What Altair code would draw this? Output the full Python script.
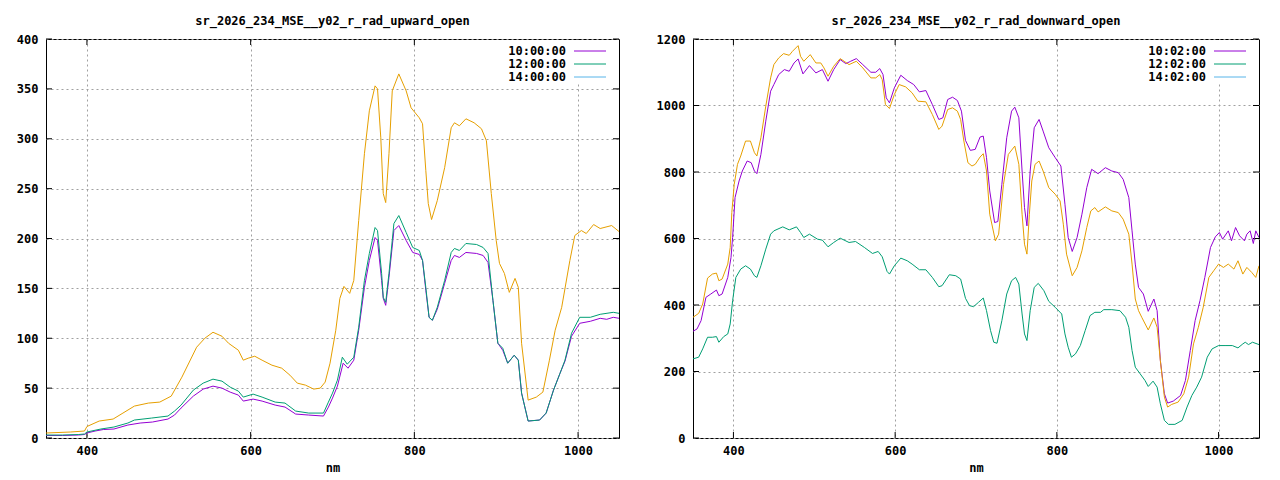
import altair as alt
import pandas as pd

# ---------------- data ----------------
TITLE_L = "sr_2026_234_MSE__y02_r_rad_upward_open"
TITLE_R = "sr_2026_234_MSE__y02_r_rad_downward_open"
LEG_L = ["10:00:00", "12:00:00", "14:00:00"]
LEG_R = ["10:02:00", "12:02:00", "14:02:00"]
X_TICKS = [400, 600, 800, 1000]
Y_TICKS_L = [0, 50, 100, 150, 200, 250, 300, 350, 400]
Y_TICKS_R = [0, 200, 400, 600, 800, 1000, 1200]

# upward, 10:00 (purple)
UP_10_NM = [350, 370, 390, 397, 400, 410, 420, 433, 450, 465, 480, 499, 507, 515, 530, 542, 554, 565, 575, 585, 591, 603, 614, 630, 642, 655, 671, 689, 695, 700, 706, 713, 719, 726, 732, 739, 745, 752, 755, 760, 762, 765, 769, 775, 781, 790, 798, 806, 810, 814, 818, 822, 828, 837, 845, 849, 855, 863, 876, 884, 890, 896, 902, 908, 914, 922, 927, 931, 939, 953, 961, 970, 978, 984, 992, 1002, 1015, 1027, 1035, 1043, 1050]
UP_10_V = [2.5, 2.5, 3, 3.5, 5, 7, 8.5, 9, 13, 15, 16, 19, 23, 30, 42, 49, 52, 50, 46, 43, 37, 39, 37, 33, 31, 24, 23, 22, 31, 40, 52, 75, 70, 78, 108, 151, 178, 201, 198, 158, 140, 133, 161, 208, 213, 198, 186, 184, 178, 148, 121, 118, 129, 155, 178, 183, 181, 186, 185, 183, 176, 138, 95, 88, 75, 83, 78, 45, 17, 18, 25, 48, 65, 77, 102, 115, 117, 120, 119, 121, 120]
# upward, 12:00 (green)
UP_12_NM = [350, 370, 390, 397, 400, 417, 433, 450, 458, 479, 499, 507, 515, 530, 542, 554, 565, 575, 585, 591, 603, 614, 630, 642, 655, 671, 689, 695, 700, 706, 712, 718, 726, 732, 739, 745, 752, 755, 760, 762, 765, 769, 775, 781, 790, 798, 806, 810, 814, 818, 822, 828, 837, 845, 849, 855, 863, 876, 884, 890, 896, 902, 908, 914, 922, 927, 931, 939, 953, 961, 970, 978, 984, 992, 1002, 1015, 1027, 1043, 1050]
UP_12_V = [3, 3, 3.5, 4, 6, 9, 11, 15, 18, 20, 22, 27, 33, 48, 55, 59, 57, 51, 47, 41, 44, 41, 36, 35, 27, 25, 25, 36, 45, 58, 81, 74, 81, 111, 158, 185, 211, 208, 165, 141, 136, 165, 215, 223, 206, 191, 188, 178, 151, 121, 118, 131, 158, 186, 190, 188, 195, 194, 191, 185, 138, 95, 90, 75, 83, 78, 45, 17, 18, 25, 48, 65, 78, 105, 121, 121, 124, 126, 125]
# upward, 14:00 (orange)
UP_14_NM = [350, 380, 397, 400, 415, 432, 444, 458, 475, 489, 503, 516, 534, 544, 554, 565, 573, 585, 591, 597, 605, 614, 626, 638, 648, 657, 667, 677, 685, 691, 697, 704, 709, 714, 721, 726, 732, 739, 745, 752, 755, 759, 762, 765, 769, 773, 781, 790, 796, 806, 810, 814, 817, 821, 828, 837, 845, 849, 855, 863, 873, 882, 888, 894, 900, 904, 910, 916, 923, 927, 931, 939, 949, 957, 965, 972, 980, 990, 996, 1004, 1010, 1019, 1027, 1041, 1050]
UP_14_V = [5, 6, 7, 11.5, 17, 19, 25, 32, 35, 36, 42, 61, 91, 100, 106, 102, 95, 88, 78, 80, 82, 78, 73, 70, 63, 55, 53, 49, 50, 56, 75, 108, 140, 152, 145, 158, 218, 285, 328, 353, 350, 301, 245, 236, 285, 348, 365, 348, 331, 321, 315, 268, 235, 219, 238, 271, 311, 316, 313, 320, 316, 310, 298, 245, 198, 175, 165, 146, 160, 151, 95, 38, 41, 46, 78, 108, 131, 178, 203, 208, 205, 214, 210, 213, 207]

# downward, 10:02 (purple)
DN_10_NM = [350, 355, 360, 366, 372, 379, 382, 386, 393, 397, 399, 402, 407, 411, 417, 422, 426, 429, 434, 440, 446, 450, 456, 463, 469, 475, 480, 486, 494, 502, 510, 517, 524, 532, 539, 545, 552, 560, 570, 576, 581, 585, 589, 593, 599, 607, 615, 623, 630, 638, 646, 654, 659, 665, 671, 677, 682, 687, 693, 699, 705, 709, 713, 717, 723, 727, 732, 738, 744, 748, 753, 757, 760, 763, 767, 772, 778, 783, 790, 798, 805, 810, 814, 819, 825, 831, 837, 843, 851, 860, 868, 876, 882, 889, 893, 897, 901, 907, 913, 920, 924, 928, 933, 937, 944, 953, 959, 965, 971, 977, 983, 990, 996, 1001, 1005, 1012, 1016, 1021, 1026, 1032, 1035, 1039, 1043, 1046, 1050]
DN_10_V = [321, 328, 353, 423, 433, 445, 428, 433, 483, 543, 603, 723, 773, 803, 833, 828, 803, 795, 853, 953, 1043, 1063, 1093, 1108, 1103, 1128, 1140, 1095, 1120, 1098, 1108, 1073, 1108, 1138, 1126, 1133, 1141, 1123, 1100, 1100, 1111, 1093, 1023, 1008, 1053, 1091, 1075, 1063, 1041, 1045, 1003, 958, 963, 1018, 1025, 1015, 983, 895, 865, 868, 905, 908, 843, 743, 648, 651, 763, 903, 983, 995, 963, 803, 693, 638, 803, 933, 958, 923, 873, 843, 818, 703, 603, 561, 603, 673, 753, 808, 795, 813, 803, 798, 778, 723, 623, 523, 453, 433, 381, 418, 383, 233, 133, 105, 111, 128, 173, 263, 353, 413, 483, 573, 605, 618, 598, 623, 593, 633, 608, 593, 613, 623, 585, 623, 603]
# downward, 12:02 (green)
DN_12_NM = [350, 357, 362, 368, 374, 379, 382, 388, 393, 396, 399, 403, 409, 415, 421, 426, 429, 434, 440, 446, 450, 461, 469, 478, 483, 487, 494, 504, 510, 517, 524, 532, 543, 551, 562, 572, 579, 584, 590, 593, 599, 607, 615, 621, 630, 638, 646, 654, 658, 667, 675, 681, 687, 692, 697, 703, 709, 713, 718, 722, 726, 732, 738, 744, 749, 753, 757, 760, 763, 767, 772, 777, 784, 790, 798, 806, 810, 814, 818, 823, 829, 835, 841, 847, 854, 858, 868, 878, 885, 889, 893, 897, 903, 909, 913, 919, 924, 928, 933, 938, 946, 955, 961, 967, 973, 979, 986, 992, 1000, 1008, 1017, 1024, 1030, 1033, 1037, 1042, 1050]
DN_12_V = [238, 243, 268, 303, 303, 305, 288, 305, 313, 343, 413, 483, 508, 518, 508, 488, 483, 518, 568, 613, 623, 635, 626, 635, 618, 603, 613, 598, 595, 575, 588, 601, 588, 591, 573, 555, 561, 545, 501, 493, 518, 541, 533, 523, 506, 506, 483, 455, 458, 491, 488, 478, 420, 398, 395, 408, 421, 383, 323, 288, 285, 353, 433, 473, 483, 463, 373, 313, 293, 383, 453, 465, 443, 411, 393, 373, 313, 273, 243, 253, 278, 323, 368, 378, 378, 386, 386, 383, 363, 333, 263, 213, 193, 173, 155, 171, 153, 103, 53, 41, 41, 53, 93, 128, 153, 183, 243, 268, 278, 278, 278, 271, 283, 288, 281, 288, 281]
# downward, 14:02 (orange)
DN_14_NM = [350, 357, 362, 368, 374, 379, 382, 386, 393, 396, 398, 401, 405, 409, 415, 421, 426, 429, 434, 440, 446, 450, 456, 462, 469, 473, 480, 483, 487, 495, 502, 508, 512, 517, 524, 532, 537, 543, 552, 560, 570, 576, 581, 584, 588, 593, 599, 605, 613, 621, 628, 638, 646, 654, 658, 665, 671, 677, 681, 685, 690, 695, 699, 705, 709, 713, 717, 724, 728, 734, 740, 748, 753, 757, 760, 763, 766, 769, 773, 778, 783, 790, 798, 804, 808, 812, 819, 825, 831, 837, 842, 847, 851, 860, 868, 876, 882, 889, 893, 897, 901, 905, 913, 920, 924, 928, 933, 937, 942, 950, 957, 963, 969, 975, 981, 988, 994, 1000, 1006, 1012, 1019, 1024, 1030, 1035, 1041, 1046, 1050]
DN_14_V = [363, 375, 403, 481, 493, 496, 473, 478, 523, 573, 678, 763, 823, 848, 893, 893, 858, 848, 903, 998, 1083, 1123, 1143, 1156, 1151, 1163, 1180, 1148, 1133, 1153, 1128, 1128, 1113, 1088, 1118, 1141, 1133, 1123, 1133, 1113, 1083, 1083, 1093, 1078, 1003, 991, 1033, 1063, 1056, 1038, 1013, 1011, 973, 928, 938, 988, 993, 983, 958, 893, 828, 818, 823, 845, 855, 803, 673, 593, 613, 763, 853, 878, 823, 673, 583, 553, 673, 773, 823, 833, 803, 753, 733, 713, 643, 553, 488, 513, 563, 633, 683, 693, 680, 695, 683, 678, 658, 613, 523, 418, 383, 363, 325, 361, 333, 233, 123, 93, 101, 108, 133, 183, 283, 333, 393, 483, 503, 523, 513, 523, 508, 533, 493, 513, 498, 483, 518]

LINE_COLORS = ["#9400D3", "#009E73", "#E69F00"]
KEY_COLORS = ["#9400D3", "#009E73", "#56B4E9"]

FONT = "DejaVu Sans Mono"
FS = 12


def long_df(names, nms, vals):
    rows = []
    for name, xs, ys in zip(names, nms, vals):
        for x, y in zip(xs, ys):
            rows.append({"series": name, "nm": x, "value": y})
    return pd.DataFrame(rows)


def panel(title, names, nms, vals, yticks, ymax, W, H):
    df = long_df(names, nms, vals)
    xscale = alt.Scale(domain=[350, 1050], nice=False, zero=False)
    yscale = alt.Scale(domain=[0, ymax], nice=False, zero=True)
    xaxis = alt.Axis(values=X_TICKS, title="nm", format="d")
    yaxis = alt.Axis(values=yticks, title=None, format="d")
    X = lambda: alt.X("nm:Q", scale=xscale, axis=xaxis)
    Y = lambda: alt.Y("value:Q", scale=yscale, axis=yaxis)

    lines = alt.Chart(df).mark_line(strokeWidth=1, clip=True).encode(
        x=X(), y=Y(),
        color=alt.Color("series:N", scale=alt.Scale(domain=names, range=LINE_COLORS), legend=None),
    )
    xt = pd.DataFrame({"nm": X_TICKS})
    yt = pd.DataFrame({"value": yticks})
    tb = alt.Chart(xt).mark_rule(color="black", strokeWidth=1).encode(x=X(), y=alt.value(H), y2=alt.value(H - 6))
    tt = alt.Chart(xt).mark_rule(color="black", strokeWidth=1).encode(x=X(), y=alt.value(0), y2=alt.value(6))
    tl = alt.Chart(yt).mark_rule(color="black", strokeWidth=1).encode(y=Y(), x=alt.value(0), x2=alt.value(6))
    tr = alt.Chart(yt).mark_rule(color="black", strokeWidth=1).encode(y=Y(), x=alt.value(W), x2=alt.value(W - 6))
    box = alt.Chart(pd.DataFrame({"k": [0]})).mark_rect(color="white").encode(
        x=alt.value(W - 115), x2=alt.value(W - 1), y=alt.value(1), y2=alt.value(43))

    layers = [tb, tt, tl, tr, box, lines]
    for i, (lab, col) in enumerate(zip(names, KEY_COLORS)):
        yy = 12 + 13 * i
        ld = pd.DataFrame({"label": [lab]})
        layers.append(alt.Chart(ld).mark_text(align="right", baseline="middle", font=FONT,
                                              fontSize=FS, fontWeight="bold", color="black").encode(
            text="label:N", x=alt.value(W - 53), y=alt.value(yy)))
        layers.append(alt.Chart(ld).mark_rule(color=col, strokeWidth=1).encode(
            x=alt.value(W - 45), x2=alt.value(W - 13), y=alt.value(yy)))

    return alt.layer(*layers).properties(
        width=W, height=H,
        title=alt.TitleParams(title, font=FONT, fontSize=FS, fontWeight="bold", color="black",
                              anchor="middle", offset=5),
    )


left = panel(TITLE_L, LEG_L, [UP_10_NM, UP_12_NM, UP_14_NM], [UP_10_V, UP_12_V, UP_14_V],
             Y_TICKS_L, 400, 573, 399)
right = panel(TITLE_R, LEG_R, [DN_10_NM, DN_12_NM, DN_14_NM], [DN_10_V, DN_12_V, DN_14_V],
              Y_TICKS_R, 1200, 566, 399)

chart = alt.hconcat(left, right, spacing=35).properties(
    padding={"left": 7, "top": 6, "right": 0, "bottom": 0},
    background="white",
).configure_view(stroke="black", strokeWidth=1).configure_axis(
    labelFont=FONT, labelFontSize=FS, labelFontWeight="bold", labelColor="black",
    titleFont=FONT, titleFontSize=FS, titleFontWeight="bold", titleColor="black",
    ticks=False, domain=False, grid=True, gridColor="#a0a0a0", gridDash=[2, 3], gridWidth=1,
    labelPadding=8,
).configure_axisX(titlePadding=6, labelPadding=7)

chart.save("out.html", embed_options={"renderer": "svg", "actions": False})
